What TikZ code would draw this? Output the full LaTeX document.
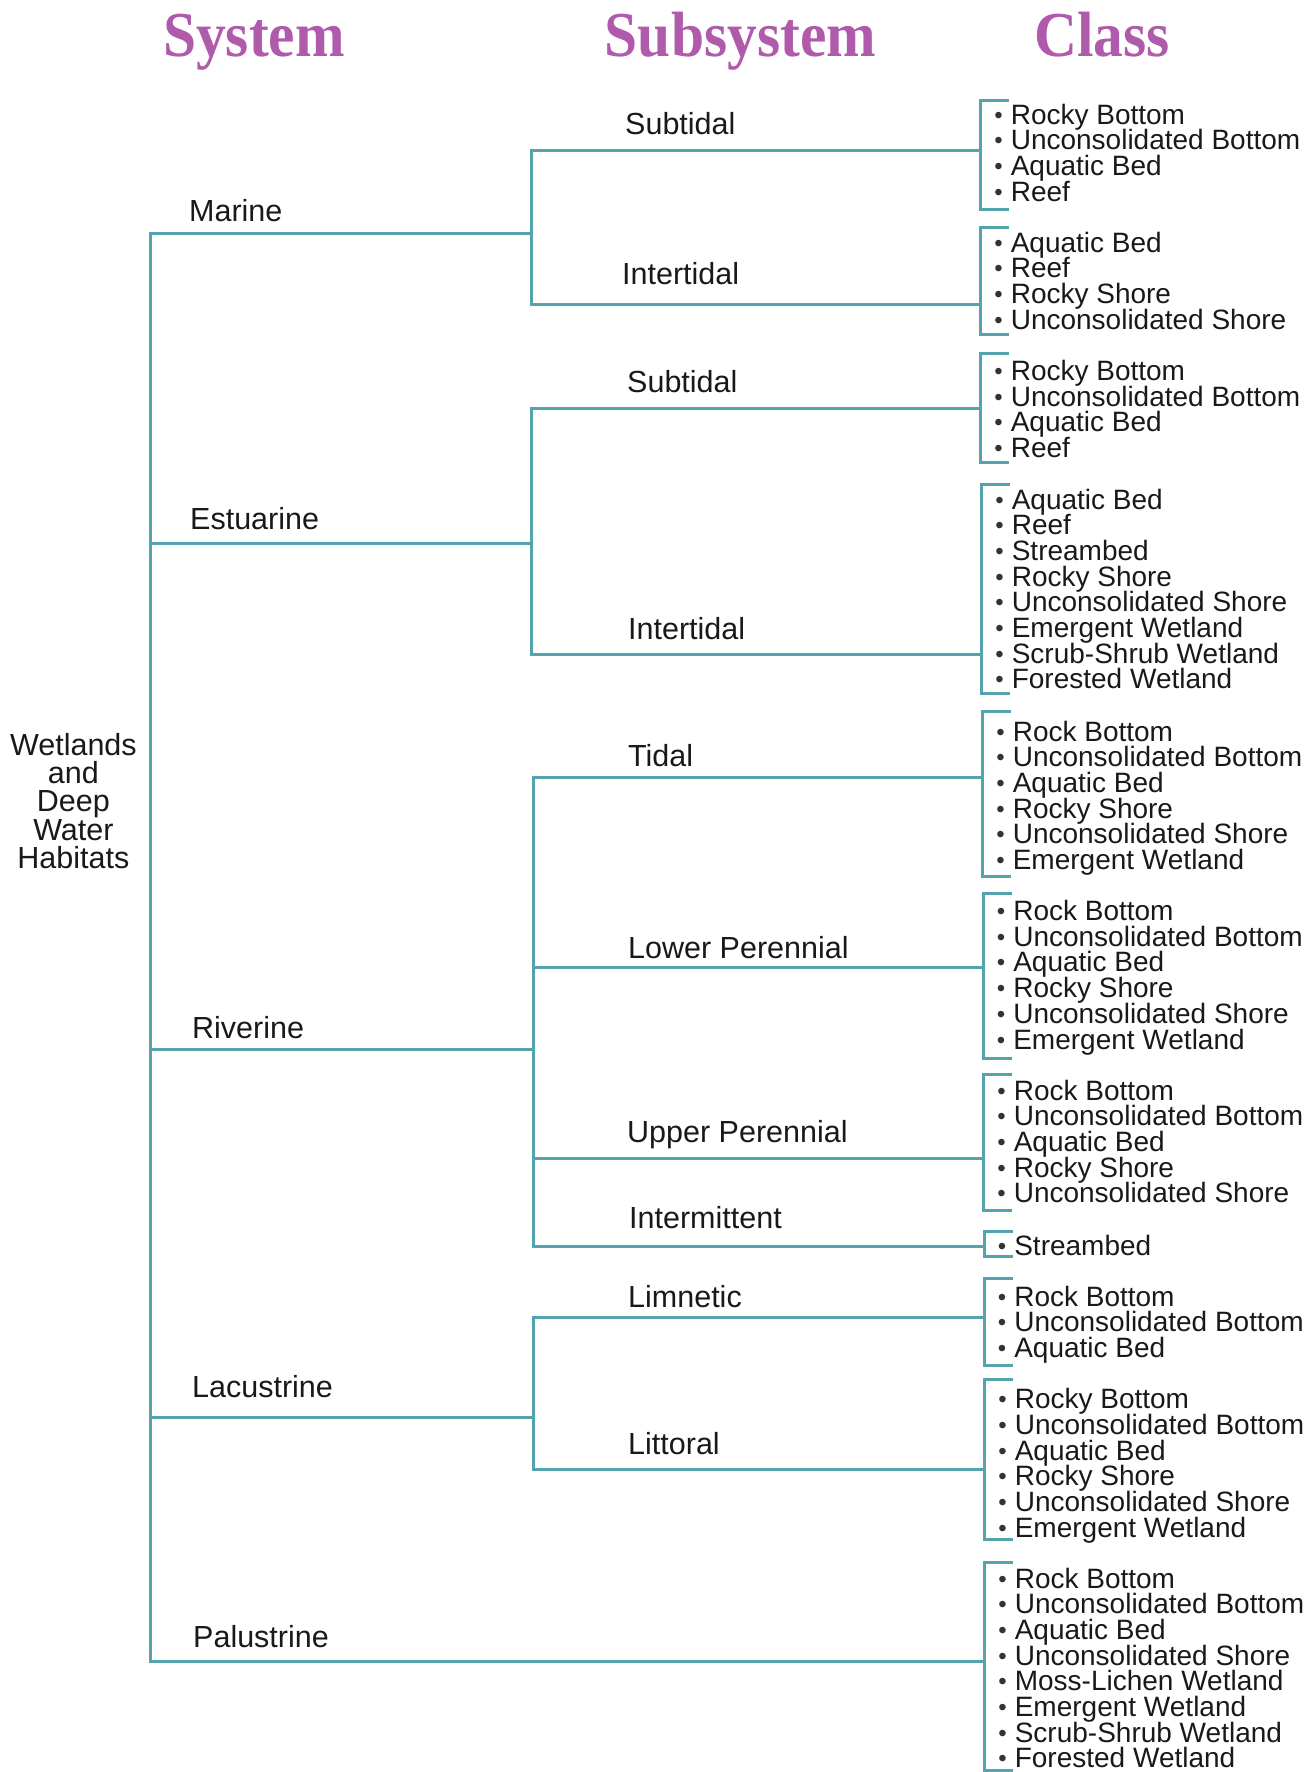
\documentclass[tikz,border=0pt]{standalone}
\usepackage{fontspec}
\setmainfont{Liberation Sans}
\newfontfamily\headfont{Liberation Serif}
\definecolor{tealline}{RGB}{84,164,174}
\definecolor{headmag}{RGB}{176,90,172}
\newcommand\bul{\makebox[17.6pt][l]{\hspace{1.2pt}\raisebox{1pt}{\fontsize{24}{24}\selectfont\color{black!80}•}}}
% #1 name, #2 top, #3 bottom, #4 line y, #5 first baseline, #6 x shift, #7 items
\newcommand\clbox[7]{%
  \begin{scope}[xshift=#6]
  \draw[ln] (1009,#2) -- (980.6,#2) -- (980.6,#3) -- (1009,#3);
  \coordinate (#1) at (980.6,#4);
  \foreach \t [count=\i] in {#7} {\node[item] (#1-\i) at (993,{#5+(\i-1)*25.7}) {\bul\t};}
  \end{scope}
}
\begin{document}
\begin{tikzpicture}[x=1pt,y=-1pt,
  ln/.style={draw=tealline, line width=3pt},
  lbl/.style={font=\fontsize{30.5}{34}\selectfont, inner sep=0, anchor=base west, text=black!90},
  item/.style={font=\fontsize{28}{30}\selectfont, inner sep=0, anchor=base west, text=black!90},
  head/.style={font=\headfont\bfseries\fontsize{64}{70}\selectfont, text=headmag, inner sep=0, anchor=base, xscale=0.93}]
\useasboundingbox (0,0) rectangle (1315,1772);
% headers
\node[head] (hsys) at (254,56) {System};
\node[head] (hsub) at (740.5,56) {Subsystem};
\node[head] (hcls) at (1102,56) {Class};
% root
\node[font=\fontsize{30.5}{28.2}\selectfont, align=center, inner sep=0, text=black!90] (root) at (73.4,801) {Wetlands\\and\\Deep\\Water\\Habitats};
% class brackets
\clbox{b1}{100.5}{209}{150}{124}{0pt}{Rocky Bottom,Unconsolidated Bottom,Aquatic Bed,Reef}
\clbox{b2}{227}{334}{304}{252}{0pt}{Aquatic Bed,Reef,Rocky Shore,Unconsolidated Shore}
\clbox{b3}{353.6}{462}{408}{380.5}{0pt}{Rocky Bottom,Unconsolidated Bottom,Aquatic Bed,Reef}
\clbox{b4}{484.6}{693.6}{654}{509}{1pt}{Aquatic Bed,Reef,Streambed,Rocky Shore,Unconsolidated Shore,Emergent Wetland,Scrub-Shrub Wetland,Forested Wetland}
\clbox{b5}{711.7}{876.6}{777}{741}{2pt}{Rock Bottom,Unconsolidated Bottom,Aquatic Bed,Rocky Shore,Unconsolidated Shore,Emergent Wetland}
\clbox{b6}{893.6}{1058.5}{967}{920.5}{2.5pt}{Rock Bottom,Unconsolidated Bottom,Aquatic Bed,Rocky Shore,Unconsolidated Shore,Emergent Wetland}
\clbox{b7}{1074.3}{1210}{1158}{1100}{3pt}{Rock Bottom,Unconsolidated Bottom,Aquatic Bed,Rocky Shore,Unconsolidated Shore}
\clbox{b8}{1231}{1256}{1246}{1255}{3.5pt}{Streambed}
\clbox{b9}{1278.8}{1365.8}{1317}{1306}{3.5pt}{Rock Bottom,Unconsolidated Bottom,Aquatic Bed}
\clbox{b10}{1379.4}{1539.8}{1469}{1408.6}{4pt}{Rocky Bottom,Unconsolidated Bottom,Aquatic Bed,Rocky Shore,Unconsolidated Shore,Emergent Wetland}
\clbox{b11}{1562.4}{1770}{1661}{1588}{4pt}{Rock Bottom,Unconsolidated Bottom,Aquatic Bed,Unconsolidated Shore,Moss-Lichen Wetland,Emergent Wetland,Scrub-Shrub Wetland,Forested Wetland}
% system level coordinates
\coordinate (m0) at (150,233); \coordinate (m1) at (531,233);
\coordinate (e0) at (150,543); \coordinate (e1) at (531,543);
\coordinate (r0) at (150,1049); \coordinate (r1) at (533,1049);
\coordinate (l0) at (150,1417); \coordinate (l1) at (533,1417);
\coordinate (p0) at (150,1661);
% subsystem coordinates
\coordinate (ms) at (531,150); \coordinate (mi) at (531,304);
\coordinate (es) at (531,408); \coordinate (ei) at (531,654);
\coordinate (rt) at (533,777); \coordinate (rl) at (533,967);
\coordinate (ru) at (533,1158); \coordinate (rn) at (533,1246);
\coordinate (ll) at (533,1317); \coordinate (lt) at (533,1469);
% connectors
\draw[ln] (m1) -- (m0) -- (p0) -- (b11);
\draw[ln] (e0) -- (e1);
\draw[ln] (r0) -- (r1);
\draw[ln] (l0) -- (l1);
\draw[ln] (b1) -- (ms) -- (mi) -- (b2);
\draw[ln] (b3) -- (es) -- (ei) -- (b4);
\draw[ln] (b5) -- (rt) -- (rn) -- (b8);
\draw[ln] (rl) -- (b6);
\draw[ln] (ru) -- (b7);
\draw[ln] (b9) -- (ll) -- (lt) -- (b10);
% system labels
\node[lbl] (marine) at (189,221) {Marine};
\node[lbl] (estuarine) at (190,529) {Estuarine};
\node[lbl] (riverine) at (192,1038) {Riverine};
\node[lbl] (lacustrine) at (192,1397) {Lacustrine};
\node[lbl] (palustrine) at (193,1647) {Palustrine};
% subsystem labels
\node[lbl] (msub) at (625,134) {Subtidal};
\node[lbl] (mint) at (622,284) {Intertidal};
\node[lbl] (esub) at (627,392) {Subtidal};
\node[lbl] (eint) at (628,639) {Intertidal};
\node[lbl] (rtid) at (628,766) {Tidal};
\node[lbl] (rlow) at (628,958) {Lower Perennial};
\node[lbl] (rupp) at (627,1142) {Upper Perennial};
\node[lbl] (rint) at (629,1228) {Intermittent};
\node[lbl] (llim) at (628,1307) {Limnetic};
\node[lbl] (llit) at (628,1454) {Littoral};
\end{tikzpicture}
\end{document}
